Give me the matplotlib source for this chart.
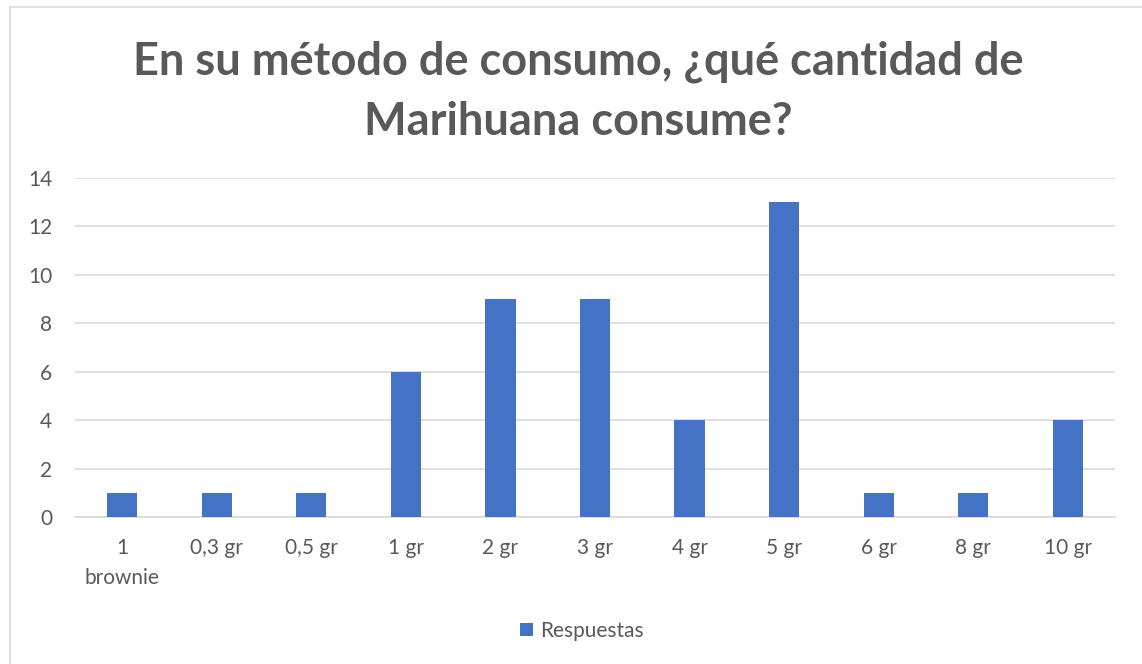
import numpy as np
import matplotlib.pyplot as plt
from matplotlib.lines import Line2D

categories = ["1\nbrownie", "0,3 gr", "0,5 gr", "1 gr", "2 gr", "3 gr",
              "4 gr", "5 gr", "6 gr", "8 gr", "10 gr"]
respuestas = [1, 1, 1, 6, 9, 9, 4, 13, 1, 1, 4]

W, H = 1142, 664
GREY = "#595959"
BLUE = "#4472C4"

plt.rcParams['font.family'] = ['Lato', 'DejaVu Sans']

fig = plt.figure(figsize=(W / 100, H / 100), dpi=100)
ax = fig.add_axes([75 / W, 1 - 517 / H, (1115 - 75) / W, (517 - 178) / H])

x = np.arange(len(categories))
ax.bar(x, respuestas, width=0.32, color=BLUE, label="Respuestas", zorder=3)

ax.set_xlim(-0.5, len(categories) - 0.5)
ax.set_ylim(0, 14)
ax.set_yticks(range(0, 15, 2))
ax.set_xticks(x)
ax.set_xticklabels(categories, linespacing=1.65, va="top")
ax.tick_params(axis="both", length=0, labelsize=15, labelcolor=GREY)
ax.tick_params(axis="x", pad=15)
ax.tick_params(axis="y", pad=16.5)
ax.grid(axis="y", color="#D9D9D9", linewidth=1.2, zorder=0)
for s in ["top", "right", "left"]:
    ax.spines[s].set_visible(False)
ax.spines["bottom"].set_color("#D9D9D9")
ax.spines["bottom"].set_linewidth(1.2)

fig.text(578 / W, 1 - 62 / H, "En su método de consumo, ¿qué cantidad de",
         ha="center", va="center", fontsize=32.5, fontweight="bold", color=GREY)
fig.text(578 / W, 1 - 122 / H, "Marihuana consume?",
         ha="center", va="center", fontsize=32.5, fontweight="bold", color=GREY)

fig.legend(loc="center", bbox_to_anchor=(582 / W, 1 - 631 / H), frameon=False,
           fontsize=15, labelcolor=GREY, handlelength=0.6, handleheight=0.6,
           handletextpad=0.35)

# outer chart border
fig.add_artist(Line2D([10 / W, 10 / W], [0, 1 - 7 / H], color="#D9D9D9", lw=1.2))
fig.add_artist(Line2D([10 / W, 1], [1 - 7 / H, 1 - 7 / H], color="#D9D9D9", lw=1.2))

fig.savefig("out.png", dpi=100)
